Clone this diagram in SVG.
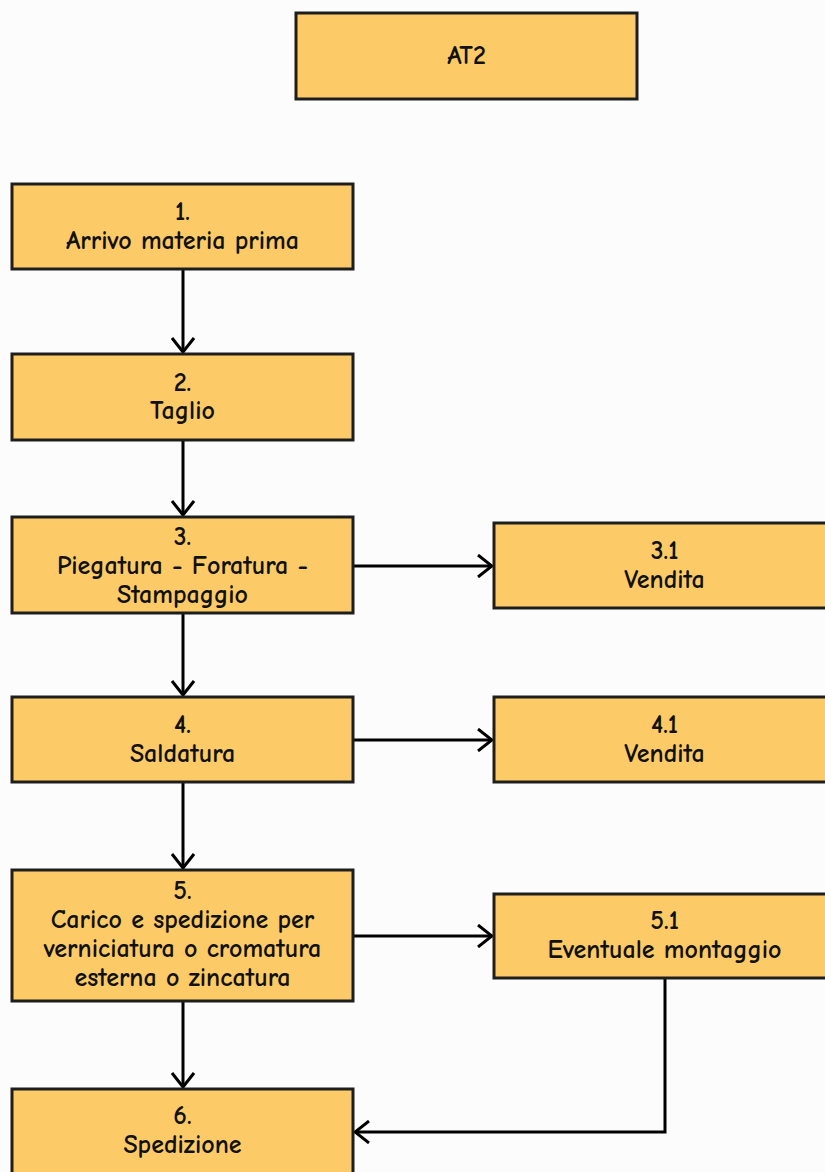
<svg xmlns="http://www.w3.org/2000/svg" width="825" height="1172" viewBox="0 0 825 1172">
<defs>
<style>
.box{fill:#FCCB67;stroke:#1e1e1e;stroke-width:3}
.t{font-family:"Comic Neue","Open Sans","DejaVu Sans",sans-serif;font-size:26px;font-weight:bold;fill:#111;text-anchor:middle}
.c{fill:none;stroke:#000;stroke-width:3}
</style>
<marker id="ah" viewBox="0 0 16 24" refX="15" refY="12" markerWidth="16" markerHeight="24" markerUnits="userSpaceOnUse" orient="auto">
<path d="M1,1 L15,12 L1,23" fill="none" stroke="#000" stroke-width="3"/>
</marker>
</defs>
<rect width="825" height="1172" fill="#fcfcfc"/>
<g id="connectors">
<path class="c" d="M183,269 V352" marker-end="url(#ah)"/>
<path class="c" d="M183,440 V515" marker-end="url(#ah)"/>
<path class="c" d="M183,613 V695" marker-end="url(#ah)"/>
<path class="c" d="M183,782 V868" marker-end="url(#ah)"/>
<path class="c" d="M183,1001 V1087" marker-end="url(#ah)"/>
<path class="c" d="M353,566 H492" marker-end="url(#ah)"/>
<path class="c" d="M353,740 H492" marker-end="url(#ah)"/>
<path class="c" d="M353,936 H492" marker-end="url(#ah)"/>
<path class="c" d="M665,978 V1132 H355" marker-end="url(#ah)"/>
</g>
<g id="at2"><rect class="box" x="296" y="13" width="341" height="86"/><text class="t" x="466.5" y="64">AT2</text></g>
<g id="n1"><rect class="box" x="12" y="184" width="341" height="85"/><text class="t" x="182.5" y="220">1.</text><text class="t" x="182.5" y="249">Arrivo materia prima</text></g>
<g id="n2"><rect class="box" x="12" y="354" width="341" height="86"/><text class="t" x="182.5" y="391">2.</text><text class="t" x="182.5" y="419">Taglio</text></g>
<g id="n3"><rect class="box" x="12" y="517" width="341" height="96"/><text class="t" x="182.5" y="545">3.</text><text class="t" x="182.5" y="574">Piegatura - Foratura -</text><text class="t" x="182.5" y="603">Stampaggio</text></g>
<g id="n31"><rect class="box" x="494" y="523" width="341" height="85"/><text class="t" x="664.5" y="559">3.1</text><text class="t" x="664.5" y="588">Vendita</text></g>
<g id="n4"><rect class="box" x="12" y="697" width="341" height="85"/><text class="t" x="182.5" y="733">4.</text><text class="t" x="182.5" y="762">Saldatura</text></g>
<g id="n41"><rect class="box" x="494" y="697" width="341" height="85"/><text class="t" x="664.5" y="733">4.1</text><text class="t" x="664.5" y="762">Vendita</text></g>
<g id="n5"><rect class="box" x="12" y="870" width="341" height="131"/><text class="t" x="182.5" y="899">5.</text><text class="t" x="182.5" y="928">Carico e spedizione per</text><text class="t" x="182.5" y="957">verniciatura o cromatura</text><text class="t" x="182.5" y="986">esterna o zincatura</text></g>
<g id="n51"><rect class="box" x="494" y="894" width="341" height="84"/><text class="t" x="664.5" y="929">5.1</text><text class="t" x="664.5" y="958">Eventuale montaggio</text></g>
<g id="n6"><rect class="box" x="12" y="1089" width="341" height="90"/><text class="t" x="182.5" y="1124">6.</text><text class="t" x="182.5" y="1153">Spedizione</text></g>
</svg>
